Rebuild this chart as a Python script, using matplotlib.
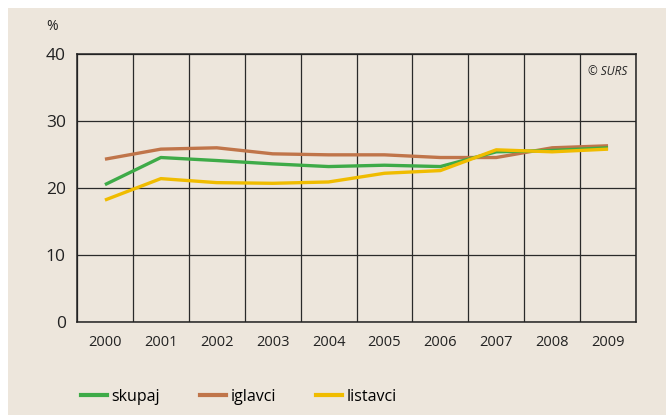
import numpy as np
import matplotlib.pyplot as plt
from matplotlib.patches import Rectangle

years = ['2000', '2001', '2002', '2003', '2004', '2005', '2006', '2007', '2008', '2009']
skupaj = [20.5, 24.55, 24.1, 23.6, 23.2, 23.4, 23.2, 25.4, 25.6, 26.0]
iglavci = [24.3, 25.8, 26.0, 25.1, 24.95, 24.95, 24.55, 24.55, 26.0, 26.3]
listavci = [18.2, 21.4, 20.8, 20.7, 20.9, 22.2, 22.6, 25.7, 25.4, 25.8]
y_ticks = [0, 10, 20, 30, 40]

bg = '#ede6dc'
c_skupaj = '#3eab48'
c_iglavci = '#c0754a'
c_listavci = '#f0bc00'

plt.rcParams['font.family'] = ['Open Sans', 'DejaVu Sans']

fig = plt.figure(figsize=(6.66, 4.15), dpi=100)
fig.patch.set_facecolor('white')
fig.patches.append(Rectangle((8 / 666, 0), 1, 1 - 8 / 415, transform=fig.transFigure,
                             facecolor=bg, edgecolor='none', zorder=-10))

ax = fig.add_axes([77 / 666, 1 - 322 / 415, 559 / 666, 268 / 415])
ax.set_facecolor(bg)

x = np.arange(len(years))
ax.plot(x, iglavci, color=c_iglavci, lw=2.4, solid_capstyle='butt', zorder=3)
ax.plot(x, skupaj, color=c_skupaj, lw=2.4, solid_capstyle='butt', zorder=4)
ax.plot(x, listavci, color=c_listavci, lw=2.4, solid_capstyle='butt', zorder=5)

ax.set_xlim(-0.5, len(years) - 0.5)
ax.set_ylim(0, 40)
ax.set_xticks(x)
ax.set_xticklabels(years, fontsize=10.5, color='#222222')
ax.set_xticks(np.arange(-0.5, len(years)), minor=True)
ax.set_yticks(y_ticks)
ax.set_yticklabels([str(v) for v in y_ticks], fontsize=12.5, color='#222222')
ax.tick_params(axis='both', which='both', length=0)
ax.tick_params(axis='x', pad=9)
ax.tick_params(axis='y', pad=8)
ax.grid(True, axis='y', which='major', color='#2a2a2a', lw=0.9)
ax.grid(True, axis='x', which='minor', color='#2a2a2a', lw=0.9)
ax.grid(False, axis='x', which='major')
for s in ax.spines.values():
    s.set_color('#222222')
    s.set_linewidth(1.1)

fig.text(52 / 666, 1 - 27 / 415, '%', fontsize=10, color='#222222', ha='center', va='center')
ax.text(0.985, 0.935, '© SURS', transform=ax.transAxes, fontsize=8.5, style='italic',
        ha='right', va='center', color='#222222')

handles = [plt.Line2D([], [], color=c, lw=3) for c in (c_skupaj, c_iglavci, c_listavci)]
fig.legend(handles, ['skupaj', 'iglavci', 'listavci'], loc='center left',
           bbox_to_anchor=(67 / 666, 1 - 397 / 415), ncol=3, frameon=False,
           fontsize=11.5, handlelength=1.6, handletextpad=0.3, columnspacing=2.5)

fig.savefig('out.png', dpi=100, facecolor=fig.get_facecolor())
